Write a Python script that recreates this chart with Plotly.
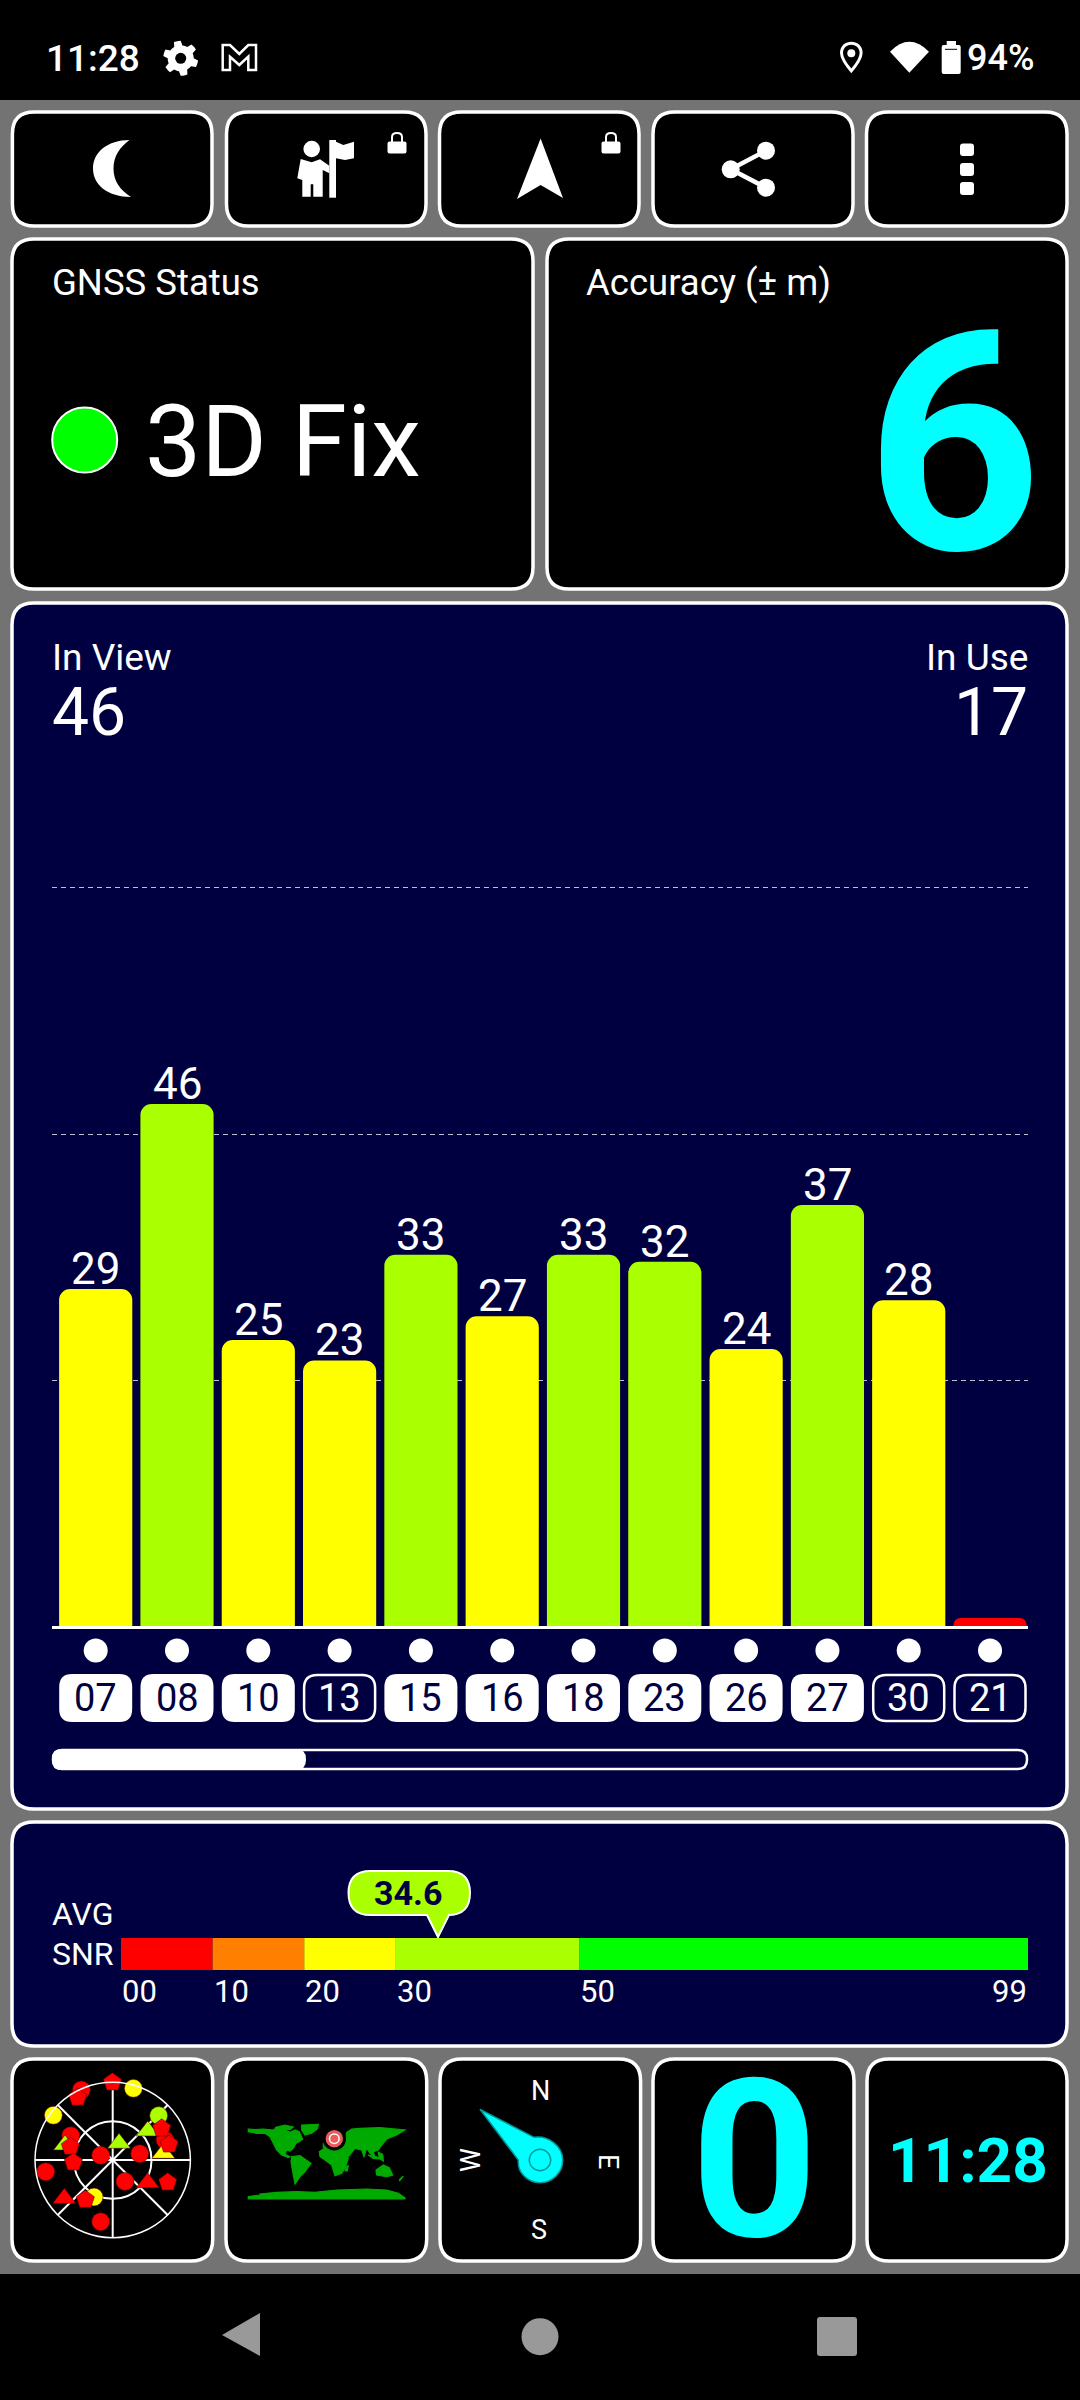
import math
import plotly.graph_objects as go

W, H = 1080, 2400

# satellite bars
prn_labels = ["07", "08", "10", "13", "15", "16", "18", "23", "26", "27", "30", "21"]
bar_snr = [29.7, 46.0, 25.2, 23.4, 32.7, 27.3, 32.7, 32.1, 24.4, 37.1, 28.7, 0.7]
bar_text = ["29", "46", "25", "23", "33", "27", "33", "32", "24", "37", "28", ""]
bar_colors = ["#ffff00", "#aaff00", "#ffff00", "#ffff00", "#aaff00", "#ffff00",
              "#aaff00", "#aaff00", "#ffff00", "#aaff00", "#ffff00", "#ff0000"]
in_use_flags = [1, 1, 1, 0, 1, 1, 1, 1, 1, 1, 0, 0]
grid_levels = [21.67, 43.35, 65.06]
dot_level = [-2.15] * 12

# average snr strip
snr_start = [0, 10, 20, 30, 50]
snr_span = [10, 10, 10, 20, 49]
snr_colors = ["#ff0000", "#ff8000", "#ffff00", "#aaff00", "#00ff00"]
snr_ticks = [0, 10, 20, 30, 50, 99]
snr_tick_text = ["00", "10", "20", "30", "50", "99"]
avg_snr = 34.6

# sky plot, r is 90 - elevation
circle_az = [335.9, 300.1, 291.3, 76.8, 260.1, 150, 191, 16.1, 307, 206.8, 46, 69.1]
circle_r = [88.9, 56.2, 14.9, 32.1, 78.8, 28.6, 72.8, 86.4, 86.1, 48, 74, 64.9]
circle_col = ["#ff0000"] * 7 + ["#ffff00"] * 3 + ["#aaff00", "#ff0000"]
tri_az = [123, 231.6, 50.4, 20.8, 287.5, 82.5]
tri_r = [48.3, 71.5, 52.7, 20.7, 57.9, 59.2]
tri_col = ["#ff0000", "#ff0000", "#aaff00", "#aaff00", "#aaff00", "#ffff00"]
pent_az = [359.8, 330.8, 57.1, 74.5, 287.5, 266.6, 112.1, 214.6]
pent_r = [90, 83.1, 67.6, 67.8, 51.4, 45.6, 68.8, 55.8]

# world map outlines, in crop pixels of the tile
map_polys = [
    [(25,42),(45,44),(70,42),(100,45),(110,38),(135,44),(150,52),(165,45),(178,50),(188,72),(178,80),(168,85),(160,100),(150,108),(140,105),(135,118),(150,125),(145,128),(125,120),(110,105),(100,85),(90,65),(75,55),(50,55),(25,50)],
    [(105,38),(135,30),(160,36),(150,44),(125,42)],
    [(185,30),(235,28),(232,42),(215,55),(195,60),(185,45)],
    [(155,125),(180,122),(213,145),(195,170),(180,185),(165,207),(158,170),(153,140)],
    [(238,110),(260,95),(280,102),(310,115),(325,130),(315,160),(305,175),(285,182),(275,150),(255,135),(240,125)],
    [(250,85),(262,70),(315,75),(320,52),(335,42),(360,40),(420,38),(495,45),(470,60),(450,68),(440,72),(425,90),(415,105),(400,110),(405,125),(390,115),(380,100),(372,125),(365,105),(345,100),(325,125),(310,115),(280,100),(250,97)],
    [(318,155),(325,152),(322,168),(316,168)],
    [(385,120),(410,125),(420,132),(400,130)],
    [(415,112),(428,118),(430,138),(418,130)],
    [(408,165),(430,150),(448,158),(458,180),(440,185),(410,180)],
    [(480,192),(490,184),(478,198)],
    [(25,245),(60,240),(60,237),(110,232),(170,230),(225,232),(290,225),(380,222),(440,225),(475,235),(495,248),(495,252),(25,252)],
]

NAVY = "#000040"
GREY = "#737373"
CYAN = "#00ffff"
NAV = "#999999"
SLOT0, SLOT_W = 95.7, 81.3
SNR_X0, SNR_X1 = 121, 1028

shapes = []
notes = []


def poly(points, fill="white", line=None, lw=0):
    path = "M" + " L".join(f"{x:.1f},{y:.1f}" for x, y in points) + " Z"
    shapes.append(dict(type="path", xref="x", yref="y", path=path, fillcolor=fill, layer="below",
                       line=dict(color=line or fill, width=lw)))


def raw_path(path, fill="white"):
    shapes.append(dict(type="path", xref="x", yref="y", path=path, fillcolor=fill, layer="below",
                       line=dict(width=0)))


def rrect(x0, y0, x1, y1, r, fill, line=None, lw=0):
    path = (f"M{x0+r},{y0} L{x1-r},{y0} Q{x1},{y0} {x1},{y0+r} L{x1},{y1-r} Q{x1},{y1} {x1-r},{y1} "
            f"L{x0+r},{y1} Q{x0},{y1} {x0},{y1-r} L{x0},{y0+r} Q{x0},{y0} {x0+r},{y0} Z")
    shapes.append(dict(type="path", xref="x", yref="y", path=path, fillcolor=fill, layer="below",
                       line=dict(color=line or fill, width=lw)))


def circle(cx, cy, r, fill="white", line=None, lw=0):
    shapes.append(dict(type="circle", xref="x", yref="y", x0=cx-r, x1=cx+r, y0=cy-r, y1=cy+r,
                       fillcolor=fill, layer="below", line=dict(color=line or fill, width=lw)))


def segment(x0, y0, x1, y1, color="white", lw=4):
    shapes.append(dict(type="line", xref="x", yref="y", x0=x0, x1=x1, y0=y0, y1=y1, layer="below",
                       line=dict(color=color, width=lw)))


def label(x, y, text, size, color="white", anchor="left", weight=400, angle=0, xref="x"):
    notes.append(dict(x=x, y=y, xref=xref, yref="y", text=text, showarrow=False, xanchor=anchor, yanchor="middle",
                      textangle=angle, borderpad=0,
                      font=dict(family="Roboto", size=size, color=color, weight=weight)))


def panel(x0, y0, x1, y1, fill="black", r=22):
    rrect(x0, y0, x1, y1, r, fill, "white", 3.5)


def lock(dx):
    rrect(387.5 + dx, 141.5, 406.5 + dx, 153.5, 2, "white")
    raw = f"M{391+dx},142 L{391+dx},137 Q{391+dx},132 {397+dx},132 Q{403+dx},132 {403+dx},137 L{403+dx},142 L{401+dx},142 L{401+dx},137 Q{401+dx},134 {397+dx},134 Q{393+dx},134 {393+dx},137 L{393+dx},142 Z"
    raw_path(raw)


# screen bands
shapes.append(dict(type="rect", xref="x", yref="y", x0=0, x1=W, y0=0, y1=100, fillcolor="black", layer="below", line=dict(width=0)))
shapes.append(dict(type="rect", xref="x", yref="y", x0=0, x1=W, y0=2274, y1=H, fillcolor="black", layer="below", line=dict(width=0)))

# status bar
label(45, 58, "11:28", 37, weight=500)
gear = []
for i in range(48):
    a = math.radians(i * 7.5)
    tooth = (i + 3) % 8 < 4
    rad = 17.5 if tooth else 13
    gear.append((180.7 + rad * math.sin(a), 58.3 - rad * math.cos(a)))
poly(gear)
circle(180.7, 58.3, 5.5, "black")
poly([(222.7,70),(222.7,45),(230,45),(239.3,54),(248.3,45),(256,45),(256,70),(248.3,70),(248.3,56.7),(239.3,65),(230,56.7),(230,70)], "black", "white", 2.5)
raw_path("M851.3,73.3 Q840,60 840,53 C840,38 862.6,38 862.6,53 Q862.6,60 851.3,73.3 Z")
raw_path("M851.3,68.5 Q843,58.5 843,53 C843,42 859.6,42 859.6,53 Q859.6,58.5 851.3,68.5 Z", "black")
circle(851.3, 53.3, 4)
raw_path("M909.3,72.7 L890,51.7 Q909.3,32 929,51.7 Z")
rrect(941.7, 45, 960.7, 74, 2, "white")
poly([(946.7,41),(956,41),(956,46),(946.7,46)])
segment(945, 49.3, 957, 49.3, "black", 1)
label(966, 58, "94%", 36, weight=500)

# action buttons
for x0, x1 in [(12.4, 212), (226.5, 426), (439.5, 639), (653, 853), (866.5, 1067)]:
    panel(x0, 112, x1, 226)
raw_path("M129.5,140 C108,140 93,152 93,168.5 C93,185 108,197 131,197 C120,190 113.5,181 113.5,168.5 C113.5,156 120,147 129.5,140 Z")
circle(311.7, 149, 8.3)
poly([(300.7,159),(311.7,162.3),(320,159.3),(329.3,165.7),(329.3,173.3),(322.7,170),(322.7,196.7),(313.3,196.7),(313.3,184.3),(310.7,184.3),(310.7,196.7),(302.3,196.7),(302.3,180),(297.3,178.3)])
poly([(329.3,140),(336,140),(336,197.7),(329.3,197.7)])
poly([(336,141.7),(343.3,145),(354,141.7),(354,158.3),(345,160),(336,158.3)])
lock(0)
poly([(540.6,138.5),(563,198),(540.6,185),(517,199)])
lock(214)
segment(766, 150.7, 730.7, 169.3, lw=4.5)
segment(730.7, 169.3, 766, 187.7, lw=4.5)
circle(766, 150.7, 9)
circle(730.7, 169.3, 9)
circle(766, 187.7, 9)
for y0, y1 in [(143.5, 156), (163, 176), (182, 195)]:
    rrect(960, y0, 974, y1, 3, "white")

# status panels
panel(12, 239, 533, 589)
panel(547, 239, 1067, 589)
label(51, 282, "GNSS Status", 36.5)
label(585, 282, "Accuracy (± m)", 36.5)
circle(84.7, 440, 32.5, "#00ff00", "white", 2)
label(144, 441, "3D Fix", 100)
label(1043, 444, "6", 306, CYAN, anchor="right", weight=700)

# satellite panel
panel(12, 603, 1067, 1809, NAVY)
label(51, 657, "In View", 37)
label(51, 712, "46", 66)
label(1029, 657, "In Use", 37, anchor="right")
label(1029, 712, "17", 66, anchor="right")
for i, prn in enumerate(prn_labels):
    cx = SLOT0 + SLOT_W * i
    if in_use_flags[i]:
        rrect(cx - 36.5, 1674, cx + 36.5, 1722, 13, "white")
        label(i, 1698, prn, 38, NAVY, anchor="center", xref="x2")
    else:
        rrect(cx - 35.5, 1675, cx + 35.5, 1721, 13, NAVY, "white", 2.5)
        label(i, 1698, prn, 38, anchor="center", xref="x2")
rrect(53, 1750, 1027, 1769, 9, NAVY, "white", 2.5)
rrect(52, 1749, 306, 1770, 10, "white")

# values over the bars
for i, txt in enumerate(bar_text):
    if txt:
        notes.append(dict(x=i, y=bar_snr[i], xref="x2", yref="y2", text=txt, showarrow=False, yanchor="middle", yshift=20,
                          font=dict(family="Roboto", size=44, color="white")))

# avg snr panel
panel(12, 1822, 1067, 2046, NAVY)
label(51, 1914, "AVG", 32)
label(51, 1954, "SNR", 32)
tip_x = SNR_X0 + avg_snr * (SNR_X1 - SNR_X0) / 99
rad = 22
bubble = (f"M{348.5+rad},1871 L{470-rad},1871 Q470,1871 470,{1871+rad} Q470,1915 {470-rad},1915 L{tip_x+11},1915 "
          f"L{tip_x},1937 L{tip_x-11},1915 L{348.5+rad},1915 Q348.5,1915 348.5,{1915-rad} Q348.5,1871 {348.5+rad},1871 Z")
shapes.append(dict(type="path", xref="x", yref="y", path=bubble, fillcolor="#aaff00", layer="below",
                   line=dict(color="white", width=2)))
label(407.7, 1893, f"{avg_snr}", 34, NAVY, anchor="center", weight=700)
for tick, txt in zip(snr_ticks, snr_tick_text):
    label(tick, 1991, txt, 31, anchor="right" if tick == 99 else "left", xref="x3")

# bottom tiles
for x0, x1 in [(12, 212.7), (226, 426.7), (440, 640.6), (653, 854), (867, 1067)]:
    panel(x0, 2059, x1, 2261)
for p in map_polys:
    poly([(240 + x / 3, 2115 + y / 3) for x, y in p], "#00aa00", "#00aa00", 1.2)
circle(334.3, 2138.7, 11.7, "black")
circle(334.3, 2138.7, 8.7, "#e85c5c")
circle(334.3, 2138.7, 4.8, "#e85c5c", "white", 1.5)
label(540, 2091, "N", 27, anchor="center")
label(539, 2230, "S", 27, anchor="center")
label(608, 2161, "E", 27, anchor="center", angle=90)
label(471, 2160, "W", 27, anchor="center", angle=-90)
needle = ("M480,2109.3 L534,2137.3 C548,2135 562.7,2146 562.7,2160 C562.7,2173 552,2182.7 540,2182.7 "
          "C527,2182.7 517.3,2172 518.3,2160 Z")
shapes.append(dict(type="path", xref="x", yref="y", path=needle, fillcolor=CYAN, layer="below",
                   line=dict(color="#009999", width=1.5)))
circle(540, 2160, 10.7, CYAN, "#009999", 1.5)
label(754, 2160, "0", 221, CYAN, anchor="center", weight=700)
label(968, 2160, "11:28", 62, CYAN, anchor="center", weight=700)

# nav bar
poly([(260,2313),(260,2356),(222,2335)], NAV)
circle(540, 2336.7, 18.5, NAV)
rrect(817, 2317, 857, 2356, 3, NAV)

fig = go.Figure()

# invisible screen axis carries the panels, drawn first
fig.add_trace(go.Scatter(x=[0, W], y=[0, H], mode="markers", marker=dict(opacity=0), showlegend=False, hoverinfo="skip"))

fig.add_trace(go.Bar(x=list(range(12)), y=bar_snr, width=0.9, xaxis="x2", yaxis="y2", showlegend=False,
                     marker=dict(color=bar_colors, line=dict(width=0), cornerradius=11)))
fig.add_trace(go.Scatter(x=list(range(12)), y=dot_level, mode="markers", xaxis="x2", yaxis="y2",
                         showlegend=False, marker=dict(color="white", size=24)))

fig.add_trace(go.Bar(x=snr_span, y=[0.5] * 5, base=snr_start, orientation="h", width=1, xaxis="x3", yaxis="y3",
                     showlegend=False, marker=dict(color=snr_colors, line=dict(width=0))))

mark_line = dict(color="rgba(90,0,0,0.55)", width=1)
fig.add_trace(go.Scatterpolar(r=circle_r, theta=circle_az, mode="markers", showlegend=False,
                              marker=dict(symbol="circle", size=18, color=circle_col, line=mark_line)))
fig.add_trace(go.Scatterpolar(r=tri_r, theta=tri_az, mode="markers", showlegend=False,
                              marker=dict(symbol="triangle-up", size=20, color=tri_col, line=mark_line)))
fig.add_trace(go.Scatterpolar(r=pent_r, theta=pent_az, mode="markers", showlegend=False,
                              marker=dict(symbol="pentagon", size=19, color="#ff0000", line=mark_line)))

bare = dict(visible=False, fixedrange=True)
# y2 runs below zero so the row of dots under the bars stays on the axis
fig.update_layout(
    width=W, height=H,
    margin=dict(l=0, r=0, t=0, b=0),
    paper_bgcolor=GREY,
    plot_bgcolor="rgba(0,0,0,0)",
    barmode="overlay",
    hovermode=False,
    shapes=shapes,
    annotations=notes,
    xaxis=dict(domain=[0, 1], range=[0, W], **bare),
    yaxis=dict(domain=[0, 1], range=[H, 0], **bare),
    xaxis2=dict(domain=[52 / W, 1028 / W], range=[-0.5375, 11.467], anchor="free", position=1 - 1627 / H, showgrid=False,
                zeroline=False, showticklabels=False, ticks="", showline=True, linecolor="white", linewidth=3),
    yaxis2=dict(domain=[1 - 1682.75 / H, 1 - 880 / H], range=[-5, 65.73], anchor="x2", tickvals=grid_levels,
                showticklabels=False, ticks="", zeroline=False, showline=False, showgrid=True,
                gridcolor="rgba(255,255,255,0.75)", gridwidth=1, griddash="5px,4px"),
    xaxis3=dict(domain=[SNR_X0 / W, SNR_X1 / W], range=[0, 99], anchor="y3", **bare),
    yaxis3=dict(domain=[1 - 1970 / H, 1 - 1938 / H], range=[0, 1], anchor="x3", **bare),
    polar=dict(
        domain=dict(x=[35 / W, 190.4 / W], y=[1 - 2237.7 / H, 1 - 2082.3 / H]),
        bgcolor="black",
        radialaxis=dict(range=[0, 90], tickvals=[45], showticklabels=False, ticks="", showline=False,
                        gridcolor="white", gridwidth=1.5),
        angularaxis=dict(rotation=90, direction="clockwise", dtick=45, showticklabels=False, ticks="",
                         showline=True, linecolor="white", linewidth=1.5, gridcolor="white", gridwidth=1.5),
    ),
)

fig.write_html("out.html", config=dict(displayModeBar=False), post_script="document.body.style.margin='0';")
